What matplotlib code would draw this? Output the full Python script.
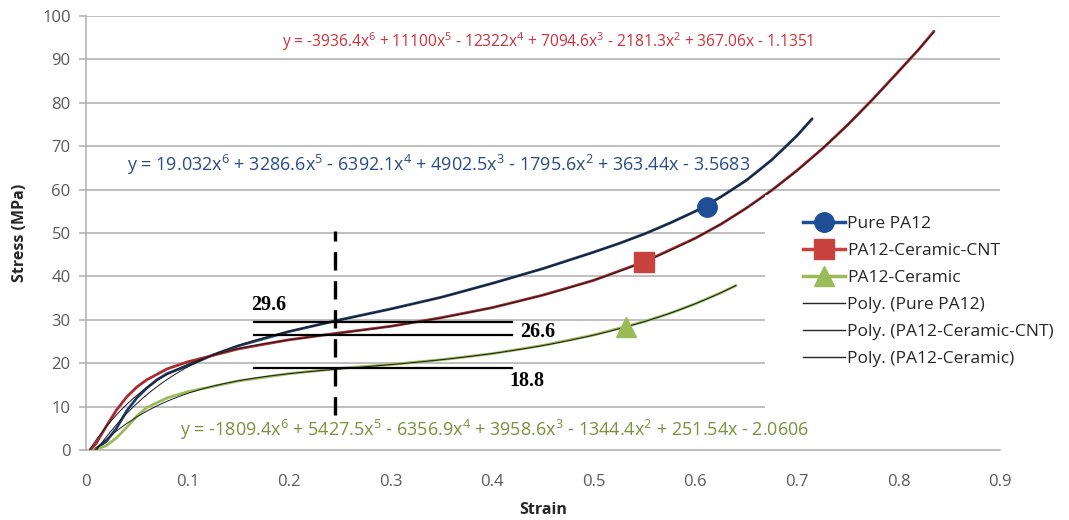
import numpy as np
import matplotlib
matplotlib.use("Agg")
import matplotlib.pyplot as plt
from matplotlib.lines import Line2D
from matplotlib.patches import Rectangle

# ---- measured stress-strain curves ----
pure_strain = [0.008, 0.02, 0.03, 0.04, 0.05, 0.06, 0.07, 0.08, 0.10, 0.125, 0.15, 0.20,
               0.25, 0.30, 0.35, 0.40, 0.45, 0.50, 0.525, 0.55, 0.575, 0.60, 0.625,
               0.65, 0.675, 0.70, 0.715]
pure_stress = [0.0, 2.0, 5.0, 9.0, 12.0, 14.3, 16.2, 17.6, 19.4, 21.9, 24.0, 27.3,
               30.0, 32.5, 35.2, 38.4, 41.8, 45.6, 47.6, 49.8, 52.3, 55.0, 58.3,
               62.1, 66.8, 72.4, 76.3]

cnt_strain = [0.004, 0.01, 0.02, 0.03, 0.04, 0.05, 0.06, 0.08, 0.10, 0.15, 0.20, 0.25,
              0.30, 0.35, 0.40, 0.45, 0.50, 0.55, 0.60, 0.625, 0.65, 0.675, 0.70,
              0.725, 0.75, 0.775, 0.80, 0.82, 0.835]
cnt_stress = [0.0, 1.5, 5.5, 9.2, 12.2, 14.5, 16.2, 18.7, 20.3, 23.3, 25.4, 27.0,
              28.5, 30.5, 32.8, 35.7, 39.1, 43.4, 48.8, 52.0, 55.7, 59.8, 64.4,
              69.4, 74.9, 80.9, 87.2, 92.3, 96.5]

ceramic_strain = [0.008, 0.02, 0.03, 0.04, 0.05, 0.06, 0.08, 0.10, 0.15, 0.20, 0.25,
                  0.30, 0.35, 0.40, 0.45, 0.50, 0.55, 0.575, 0.60, 0.625, 0.64]
ceramic_stress = [0.0, 1.0, 2.8, 5.2, 7.8, 9.8, 12.0, 13.4, 15.9, 17.6, 18.8,
                  19.7, 20.8, 22.2, 24.1, 26.5, 29.6, 31.5, 33.7, 36.2, 37.9]

# ---- 6th-order polynomial trendlines (highest power first) ----
pure_coef = [19.032, 3286.6, -6392.1, 4902.5, -1795.6, 363.44, -3.5683]
cnt_coef = [-3936.4, 11100, -12322, 7094.6, -2181.3, 367.06, -1.1351]
ceramic_coef = [-1809.4, 5427.5, -6356.9, 3958.6, -1344.4, 251.54, -2.0606]

# ---- highlighted points on each curve ----
marker_strain = [0.611, 0.549, 0.532]
marker_stress = [56.1, 43.4, 28.4]

ref_strain = 0.245
ref_stress = [29.6, 26.6, 18.8]
ref_line_span = [0.165, 0.419]

series_names = ["Pure PA12", "PA12-Ceramic-CNT", "PA12-Ceramic"]
x_ticks = [0, 0.1, 0.2, 0.3, 0.4, 0.5, 0.6, 0.7, 0.8, 0.9]
x_tick_labels = ["0", "0.1", "0.2", "0.3", "0.4", "0.5", "0.6", "0.7", "0.8", "0.9"]
y_ticks = [0, 10, 20, 30, 40, 50, 60, 70, 80, 90, 100]
y_tick_labels = ["0", "10", "20", "30", "40", "50", "60", "70", "80", "90", "100"]

line_colors = ["#1F3C6E", "#A82B32", "#9BBB59"]
marker_colors = ["#1F4E96", "#C8433F", "#9BBB59"]
marker_shapes = ["o", "s", "^"]
eq_colors = ["#2A4C86", "#D0303A", "#77933C"]

plt.rcParams["font.family"] = ["Open Sans", "DejaVu Sans"]
plt.rcParams["mathtext.fontset"] = "custom"
plt.rcParams["mathtext.rm"] = "Open Sans"
plt.rcParams["mathtext.it"] = "Open Sans:italic"
plt.rcParams["mathtext.bf"] = "Open Sans:bold"


def poly_label(coef):
    deg = len(coef) - 1
    parts = []
    for i, c in enumerate(coef):
        p = deg - i
        mag = f"{abs(c):g}"
        if p > 1:
            term = f"{mag}x$^{{{p}}}$"
        elif p == 1:
            term = f"{mag}x"
        else:
            term = mag
        if i == 0:
            parts.append(("-" if c < 0 else "") + term)
        else:
            parts.append(("- " if c < 0 else "+ ") + term)
    return "y = " + " ".join(parts)


fig = plt.figure(figsize=(10.69, 5.2), dpi=100)
ax = fig.add_axes([86 / 1069, 70 / 520, 914 / 1069, 434 / 520])

grid_color = "#ADADAD"
for yv in y_ticks[1:]:
    ax.axhline(yv, color=grid_color, lw=1.1, zorder=0)
for side in ["top", "right"]:
    ax.spines[side].set_visible(False)
for side in ["left", "bottom"]:
    ax.spines[side].set_color(grid_color)
    ax.spines[side].set_linewidth(1.1)

ax.set_xlim(0, 0.9)
ax.set_ylim(0, 100)
ax.set_xticks(x_ticks)
ax.set_xticklabels(x_tick_labels)
ax.set_yticks(y_ticks)
ax.set_yticklabels(y_tick_labels)
ax.tick_params(axis="y", length=5, width=1.1, color=grid_color, pad=6,
               labelsize=12, labelcolor="#595959")
ax.tick_params(axis="x", length=0, pad=17, labelsize=12, labelcolor="#595959")
ax.set_xlabel("Strain", fontsize=11.5, fontweight="bold", color="#262626", labelpad=9)
ax.set_ylabel("Stress (MPa)", fontsize=11.5, fontweight="bold", color="#262626", labelpad=10)

strains = [pure_strain, cnt_strain, ceramic_strain]
stresses = [pure_stress, cnt_stress, ceramic_stress]
coefs = [pure_coef, cnt_coef, ceramic_coef]

# measured curves
for xs, ys, col in zip(strains, stresses, line_colors):
    ax.plot(xs, ys, color=col, lw=2.0, solid_capstyle="round",
            solid_joinstyle="round", zorder=3)

# polynomial trendlines over each data range
for xs, coef in zip(strains, coefs):
    xt = np.linspace(min(xs), max(xs), 400)
    ax.plot(xt, np.polyval(coef, xt), color="#1A1A1A", lw=0.7, zorder=4)

# highlighted markers
for mx, my, mc, ms in zip(marker_strain, marker_stress, marker_colors, marker_shapes):
    ax.plot([mx], [my], marker=ms, ms=14, color=mc, mec=mc, ls="none", zorder=6)

# reference lines at the common strain
ax.plot([ref_strain, ref_strain], [8, 50.5], color="black", lw=2.4,
        ls=(0, (5.5, 3.2)), zorder=5)
for sv in ref_stress:
    ax.plot(ref_line_span, [sv, sv], color="black", lw=1.6, zorder=5)

num_font = dict(family="Liberation Serif", fontweight="bold", fontsize=14.5, color="black")
ax.text(0.163, 33.4, f"{ref_stress[0]:.1f}", ha="left", va="center", **num_font)
ax.text(0.427, 27.2, f"{ref_stress[1]:.1f}", ha="left", va="center", **num_font)
ax.text(0.417, 15.9, f"{ref_stress[2]:.1f}", ha="left", va="center", **num_font)

# trendline equations
ax.text(0.455, 94.2, poly_label(cnt_coef), color=eq_colors[1], fontsize=11.2,
        ha="center", va="center", zorder=7)
ax.text(0.347, 65.7, poly_label(pure_coef), color=eq_colors[0], fontsize=13,
        ha="center", va="center", zorder=7)
ax.text(0.402, 4.6, poly_label(ceramic_coef), color=eq_colors[2], fontsize=13,
        ha="center", va="center", zorder=7)

# legend panel
fig.add_artist(Rectangle((765 / 1069, 102 / 520), 304 / 1069, 223 / 520,
                         transform=fig.transFigure, facecolor="white",
                         edgecolor="none", zorder=1))

handles = []
for lc, mc, ms in zip(line_colors, marker_colors, marker_shapes):
    handles.append(Line2D([], [], color=mc, lw=2.5, marker=ms, ms=14, mec=mc, mfc=mc))
for _ in range(3):
    handles.append(Line2D([], [], color="#262626", lw=1.0))
labels = series_names + [f"Poly. ({n})" for n in series_names]

leg = fig.legend(handles, labels, loc="upper left",
                 bbox_to_anchor=(803 / 1069, (520 - 216) / 520),
                 frameon=False, fontsize=12.5, handlelength=2.4, handletextpad=0.15,
                 labelspacing=0.62, borderpad=0, borderaxespad=0)
for t in leg.get_texts():
    t.set_color("#262626")
leg.set_zorder(8)

fig.savefig("out.png", dpi=100)
